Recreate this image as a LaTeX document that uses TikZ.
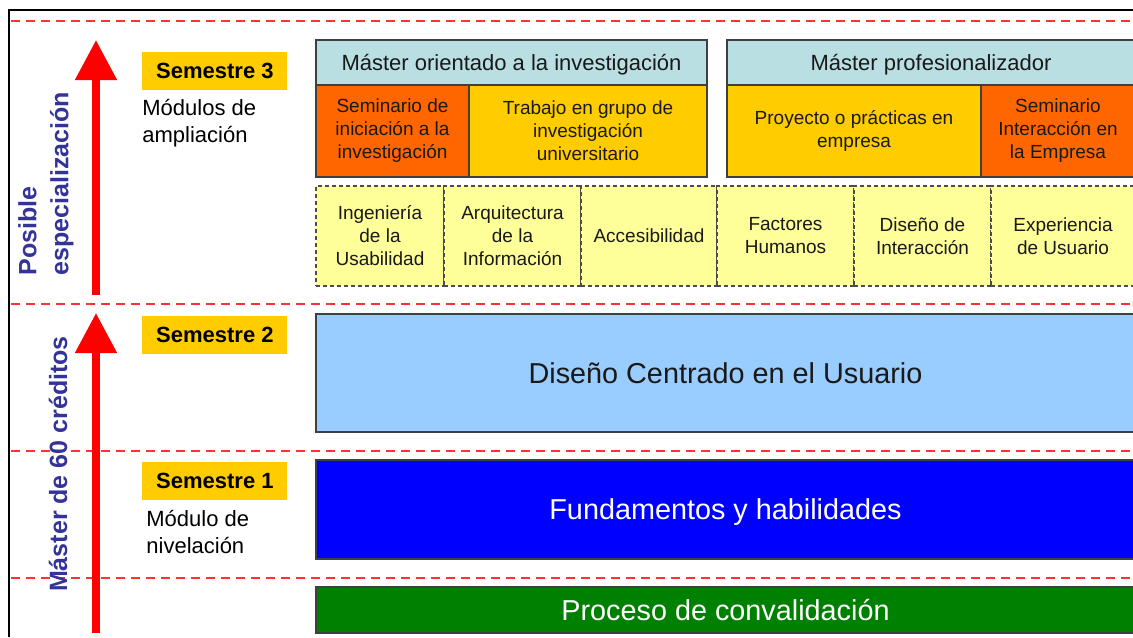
\documentclass[tikz,border=0pt]{standalone}
\usepackage{fontspec}
\setmainfont{Liberation Sans}
\usetikzlibrary{arrows.meta}

\definecolor{semgold}{HTML}{FFCC00}
\definecolor{semorange}{HTML}{FF6600}
\definecolor{headteal}{HTML}{B9DFE3}
\definecolor{modyellow}{HTML}{FFFF99}
\definecolor{dcublue}{HTML}{99CCFF}
\definecolor{fundblue}{HTML}{0000FF}
\definecolor{convgreen}{HTML}{008000}
\definecolor{axisblue}{HTML}{333399}
\definecolor{sepred}{HTML}{FF3333}

\begin{document}
\begin{tikzpicture}[x=0.5pt,y=-0.5pt,
  box/.style={draw=black!75,line width=0.7pt,anchor=north west,inner sep=0pt,outer sep=0pt,text=black!90},
  headbox/.style={box,fill=headteal,text height=7.9pt,text depth=0pt,font=\fontsize{11}{13}\selectfont},
  modbox/.style={box,align=center,font=\fontsize{9.5}{11.5}\selectfont},
  optbox/.style={modbox,fill=modyellow,draw=black!70,dash pattern=on 2pt off 1.5pt},
  bigbox/.style={box,text height=10.4pt,text depth=0pt,font=\fontsize{14.4}{17}\selectfont},
  semlabel/.style={fill=semgold,anchor=north west,inner sep=0pt,font=\fontsize{11}{13}\selectfont\bfseries},
  semnote/.style={anchor=north west,inner sep=0pt,align=left,font=\fontsize{11}{13.5}\selectfont},
  axislabel/.style={rotate=90,inner sep=0pt,text=axisblue,font=\fontsize{12.5}{16}\selectfont\bfseries},
  sepline/.style={sepred,line width=1.2pt,dash pattern=on 4.5pt off 3pt},
  uparrow/.style={red,line width=4pt,-{Triangle[width=20pt,length=20pt]}}]
  \pgfmathsetmacro{\pxu}{0.5}
  \useasboundingbox (0,0) rectangle (1133,637);
  \clip (0,0) rectangle (1133,637);

  % frame and semester separators
  \draw[line width=1pt] (9,637) -- (9,10) -- (1133,10);
  \foreach \yy in {21,304,451,578}{
    \draw[sepline] (11,\yy) -- (1133,\yy);
  }

  % arrows
  \coordinate (specfrom) at (96,295);
  \coordinate (specto) at (96,40);
  \coordinate (credfrom) at (96,633);
  \coordinate (credto) at (96,313);
  \draw[uparrow] (specfrom) -- (specto);
  \draw[uparrow] (credfrom) -- (credto);

  \node[axislabel,anchor=west,align=left] (spec) at (46,276) {Posible\\especialización};
  \node[axislabel] (credits) at (58,464) {Máster de 60 créditos};

  % semester labels
  \node[semlabel,minimum width=145*\pxu pt,minimum height=38*\pxu pt] (sem3) at (142,52) {Semestre 3};
  \node[semnote] (sem3note) at (142,99) {Módulos de\\ampliación};
  \node[semlabel,minimum width=145*\pxu pt,minimum height=38*\pxu pt] (sem2) at (142,316) {Semestre 2};
  \node[semlabel,minimum width=145*\pxu pt,minimum height=38*\pxu pt] (sem1) at (142,462) {Semestre 1};
  \node[semnote] (sem1note) at (146,510) {Módulo de\\nivelación};

  % third semester
  \node[headbox,minimum width=391*\pxu pt,minimum height=45*\pxu pt] (invhead) at (316,40) {Máster orientado a la investigación};
  \node[modbox,fill=semorange,minimum width=153*\pxu pt,minimum height=92*\pxu pt] (invsem) at (316,85) {Seminario de\\iniciación a la\\investigación};
  \node[modbox,fill=semgold,minimum width=238*\pxu pt,minimum height=92*\pxu pt] (invgrp) at (469,85) {Trabajo en grupo de\\investigación\\universitario};

  \node[headbox,minimum width=408*\pxu pt,minimum height=45*\pxu pt] (profhead) at (727,40) {Máster profesionalizador};
  \node[modbox,fill=semgold,minimum width=254*\pxu pt,minimum height=92*\pxu pt] (profproj) at (727,85) {Proyecto o prácticas en\\empresa};
  \node[modbox,fill=semorange,minimum width=154*\pxu pt,minimum height=92*\pxu pt] (profsem) at (981,85) {Seminario\\Interacción en\\la Empresa};

  \foreach \xa/\xb/\nm/\txt in {316/444/usab/{Ingeniería\\de la\\Usabilidad},
      444/581/arqinf/{Arquitectura\\de la\\Información},
      581/717/acces/{Accesibilidad},
      717/854/facthum/{Factores\\Humanos},
      854/991/disint/{Diseño de\\Interacción},
      991/1135/expusu/{Experiencia\\de Usuario}}{
    \pgfmathsetmacro{\cellw}{(\xb-\xa)*\pxu}
    \node[optbox,minimum width=\cellw pt,minimum height=100*\pxu pt] (\nm) at (\xa,186) {\txt};
  }

  % second and first semester
  \node[bigbox,fill=dcublue,minimum width=819*\pxu pt,minimum height=118*\pxu pt] (dcu) at (316,314) {Diseño Centrado en el Usuario};
  \node[bigbox,fill=fundblue,text=white,minimum width=819*\pxu pt,minimum height=99*\pxu pt] (fund) at (316,460) {Fundamentos y habilidades};
  \node[bigbox,fill=convgreen,text=white,minimum width=819*\pxu pt,minimum height=46*\pxu pt] (conv) at (316,587) {Proceso de convalidación};
\end{tikzpicture}
\end{document}
